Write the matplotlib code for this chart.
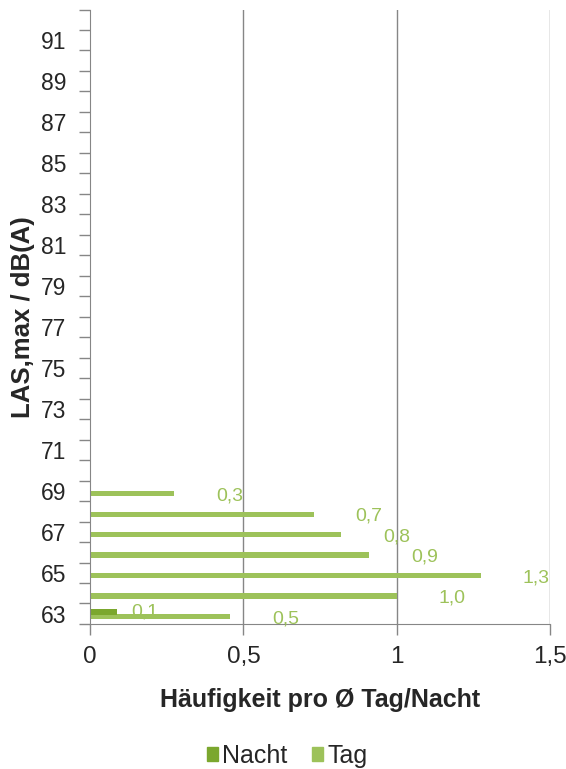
import numpy as np
import matplotlib
matplotlib.use('Agg')
import matplotlib.pyplot as plt
from matplotlib.patches import Patch

plt.rcParams['font.family'] = ['Liberation Sans', 'DejaVu Sans']

# LAS,max classes in dB(A)
levels = list(range(63, 93))
tag = [0.456, 1.0, 1.274, 0.911, 0.819, 0.729, 0.275] + [0] * 23
nacht = [0.087] + [0] * 29
tag_labels = ['0,5', '1,0', '1,3', '0,9', '0,8', '0,7', '0,3']
nacht_labels = ['0,1']

c_nacht = '#7BA72E'
c_tag = '#9DC25A'
grey = '#868686'
txt = '#262626'

fig = plt.figure(figsize=(5.66, 7.69), dpi=100)
ax = fig.add_axes([0.159, 0.1886, 0.813, 0.799])

y = np.array(levels)
ax.barh(y - 0.14, tag, height=0.26, color=c_tag)
ax.barh(y + 0.09, nacht, height=0.28, color=c_nacht)

# data labels, shifted right of the bar ends like in the original
for i, lab in enumerate(tag_labels):
    ax.annotate(lab, (tag[i], y[i] - 0.14), xytext=(42, -2),
                textcoords='offset pixels', ha='left', va='center',
                fontsize=14, color=c_tag)
for i, lab in enumerate(nacht_labels):
    ax.annotate(lab, (nacht[i], y[i] + 0.09), xytext=(15, 0),
                textcoords='offset pixels', ha='left', va='center',
                fontsize=14, color=c_tag)

ax.set_xlim(0, 1.5)
ax.set_ylim(62.5, 92.5)
ax.set_xticks([0, 0.5, 1, 1.5])
ax.set_xticklabels(['0', '0,5', '1', '1,5'])
ax.set_yticks(levels[::2])
ax.set_yticklabels([str(v) for v in levels[::2]])
ax.set_yticks(np.arange(62.5, 93.0, 1.0), minor=True)

ax.tick_params(axis='y', which='major', length=0, labelsize=16.5, pad=17,
               labelcolor=txt)
ax.tick_params(axis='y', which='minor', length=8, color=grey, width=1)
ax.tick_params(axis='x', length=8, color=grey, width=1, labelsize=17.5,
               pad=8, labelcolor=txt)

for s in ['top', 'right']:
    ax.spines[s].set_visible(False)
for s in ['left', 'bottom']:
    ax.spines[s].set_color(grey)

for xv in [0.5, 1, 1.5]:
    ax.axvline(xv, color=grey, lw=1, zorder=0)

ax.set_xlabel('Häufigkeit pro Ø Tag/Nacht', fontsize=18, fontweight='bold',
              labelpad=14, color=txt)
ax.set_ylabel('LAS,max / dB(A)', fontsize=18.5, fontweight='bold', labelpad=4,
              color=txt)

handles = [Patch(color=c_nacht, label='Nacht'), Patch(color=c_tag, label='Tag')]
fig.legend(handles=handles, loc='center', bbox_to_anchor=(0.507, 0.017), ncol=2,
           frameon=False, fontsize=18, handlelength=0.45, handleheight=0.45,
           handletextpad=0.15, columnspacing=1.0, labelcolor=txt)

fig.savefig('out.png', dpi=100)
